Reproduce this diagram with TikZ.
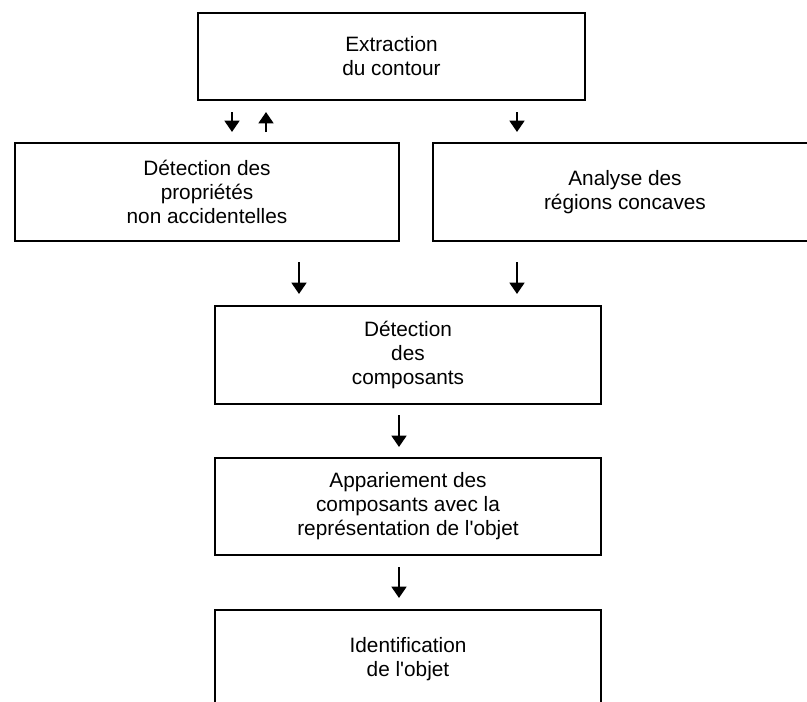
\documentclass[tikz,border=0pt]{standalone}
\usepackage{fontspec}
\setmainfont{Liberation Sans}
\usetikzlibrary{arrows.meta}
\tikzset{
  etape/.style={draw, line width=2pt, outer sep=0pt, align=center, inner sep=0.75pt, font=\fontsize{15.6}{18}\selectfont},
  fleche/.style={line width=2pt, -{Triangle[width=11pt,length=8.5pt]}}
}

\begin{document}
\begin{tikzpicture}[x=0.75pt,y=0.75pt,yscale=-1,xscale=1]
%set diagram left start at 0, and has height of 701
\useasboundingbox (0,0) rectangle (807,701);
\clip (0,0) rectangle (807,701);

% Text Node
\node [etape, minimum width=290.25pt, minimum height=65.25pt] (extraction) at (391.5,56.5) {Extraction\\du contour};
% Text Node
\node [etape, minimum width=288pt, minimum height=73.5pt] (proprietes) at (207,192) {D\'etection des\\propri\'et\'es\\non accidentelles};
% Text Node (box runs off the right side)
\node [etape, draw=none, minimum width=288pt, minimum height=73.5pt] (concaves) at (625,192) {Analyse des\\r\'egions concaves};
\draw [line width=2pt] ([xshift=20pt]concaves.north east) -- (concaves.north west) -- (concaves.south west) -- ([xshift=20pt]concaves.south east);
% Text Node
\node [etape, minimum width=289.5pt, minimum height=73.5pt] (composants) at (408,355) {D\'etection\\des\\composants};
% Text Node
\node [etape, minimum width=289.5pt, minimum height=72.75pt] (appariement) at (408,506.5) {Appariement des\\composants avec la\\repr\'esentation de l\textquotesingle objet};
% Text Node (box runs off the bottom)
\node [etape, draw=none, minimum width=289.5pt, minimum height=73.5pt] (identification) at (408,659) {Identification\\de l\textquotesingle objet};
\draw [line width=2pt] ([yshift=20pt]identification.south west) -- (identification.north west) -- (identification.north east) -- ([yshift=20pt]identification.south east);

% Coordinates of the arrows
\coordinate (a1) at (232,112); \coordinate (b1) at (232,132);
\coordinate (a2) at (266,132); \coordinate (b2) at (266,112);
\coordinate (a3) at (517,112); \coordinate (b3) at (517,132);
\coordinate (a4) at (299,262); \coordinate (b4) at (299,294);
\coordinate (a5) at (517,262); \coordinate (b5) at (517,294);
\coordinate (a6) at (399,415); \coordinate (b6) at (399,447);
\coordinate (a7) at (399,567); \coordinate (b7) at (399,598);

%Straight Lines
\draw [fleche] (a1) -- (b1);
%Straight Lines
\draw [fleche] (a2) -- (b2);
%Straight Lines
\draw [fleche] (a3) -- (b3);
%Straight Lines
\draw [fleche] (a4) -- (b4);
%Straight Lines
\draw [fleche] (a5) -- (b5);
%Straight Lines
\draw [fleche] (a6) -- (b6);
%Straight Lines
\draw [fleche] (a7) -- (b7);
\end{tikzpicture}
\end{document}
